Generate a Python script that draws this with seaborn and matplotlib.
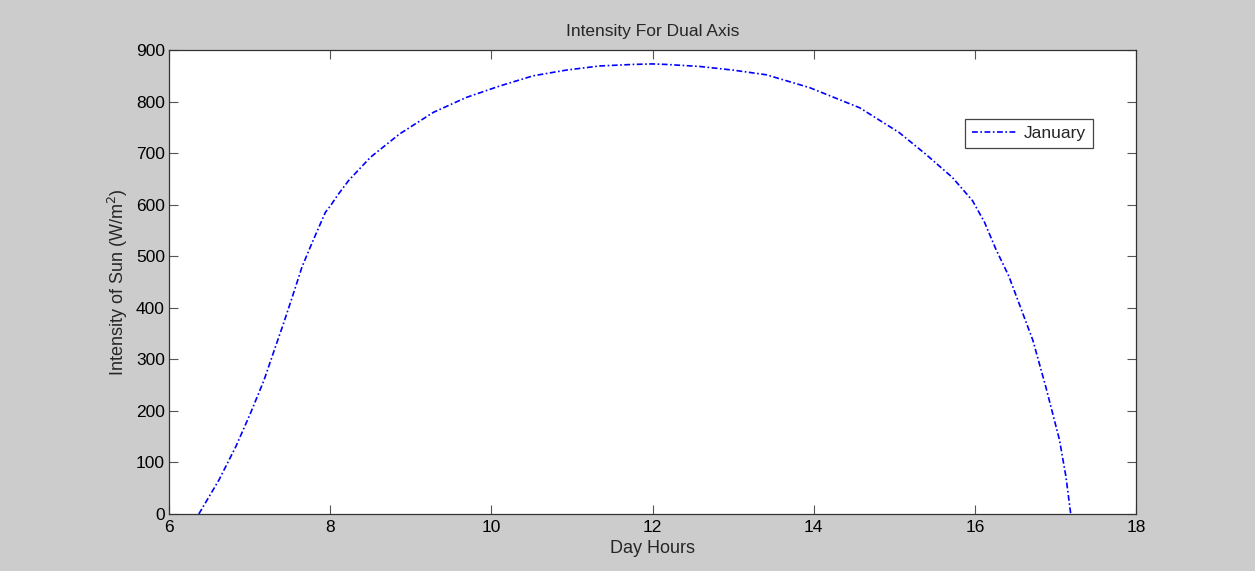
import matplotlib
matplotlib.use("Agg")
import matplotlib.pyplot as plt
import seaborn as sns
import pandas as pd

# values
hours = [6.37, 6.62, 6.83, 7.01, 7.18, 7.32, 7.42, 7.53, 7.65, 7.77, 7.94, 8.0,
         8.1, 8.23, 8.5, 8.86, 9.28, 9.69, 10.10, 10.52, 10.93, 11.34, 11.76,
         12.0, 12.17, 12.59, 13.0, 13.41, 13.95, 14.57, 15.06, 15.39, 15.72,
         15.97, 16.12, 16.26, 16.42, 16.55, 16.72, 16.88, 17.05, 17.13, 17.19]
intensity = [0, 66, 131, 195, 260, 324, 369, 421, 479, 524, 585, 597,
             620, 647, 692, 737, 779, 808, 830, 850, 861, 869, 872,
             873, 872, 868, 861, 852, 827, 788, 740, 698, 653,
             608, 566, 514, 462, 408, 337, 247, 144, 73, 0]

df = pd.DataFrame({"hour": hours, "intensity": intensity})

sns.set_style("ticks")
plt.rcParams["font.family"] = ["Liberation Sans", "DejaVu Sans"]

fig = plt.figure(figsize=(12.55, 5.71), dpi=100, facecolor="#cccccc")
ax = fig.add_axes([169 / 1255, 57 / 571, 967 / 1255, 464 / 571])
ax.set_facecolor("white")

sns.lineplot(data=df, x="hour", y="intensity", ax=ax, color="blue",
             linewidth=1.2, label="January")
ax.lines[0].set_dashes([3.5, 1.5, 1, 1.5])

ax.set_xlim(6, 18)
ax.set_ylim(0, 900)
ax.set_xticks(range(6, 19, 2))
ax.set_yticks(range(0, 901, 100))
ax.tick_params(direction="in", top=True, right=True, length=6.5, width=0.8,
               labelsize=12.5, colors="#555555", labelcolor="black", pad=3)
ax.tick_params(axis="x", pad=4)
for s in ax.spines.values():
    s.set_linewidth(0.9)
    s.set_color("#333333")

ax.set_title("Intensity For Dual Axis", fontsize=12.5, pad=10)
ax.set_xlabel("Day Hours", fontsize=13, labelpad=4)
ax.set_ylabel("Intensity of Sun (W/m$^2$)", fontsize=13, labelpad=4)

leg = ax.legend(loc="upper right", bbox_to_anchor=(0.9555, 0.851),
                fontsize=12.5, frameon=True, fancybox=False, framealpha=1,
                edgecolor="#444444", handlelength=2.6, borderpad=0.4,
                handletextpad=0.4, borderaxespad=0)
leg.get_frame().set_linewidth(0.9)

fig.savefig("out.png", dpi=100, facecolor=fig.get_facecolor())
